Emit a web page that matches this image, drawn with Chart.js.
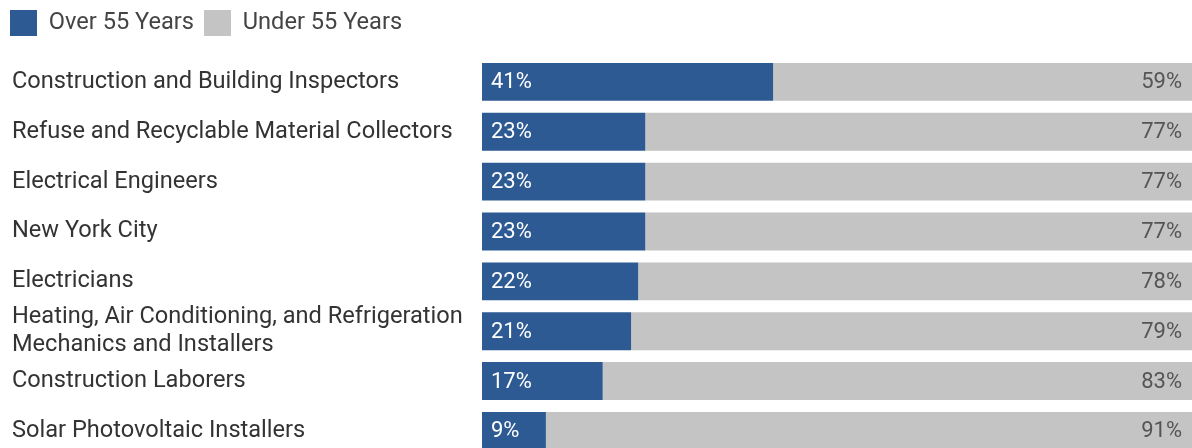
<!DOCTYPE html>
<html>
<head>
<meta charset="utf-8">
<script src="https://cdn.jsdelivr.net/npm/chart.js@4"></script>
<style>
  html, body { margin: 0; padding: 0; background: #fff; overflow: hidden; }
  #wrap { width: 1192px; height: 470px; }
</style>
</head>
<body>
<div id="wrap"><canvas id="c" width="1192" height="470"></canvas></div>
<script>
const categories = [
  "Construction and Building Inspectors",
  "Refuse and Recyclable Material Collectors",
  "Electrical Engineers",
  "New York City",
  "Electricians",
  ["Heating, Air Conditioning, and Refrigeration", "Mechanics and Installers"],
  "Construction Laborers",
  "Solar Photovoltaic Installers"
];
const over55 = [41, 23, 23, 23, 22, 21, 17, 9];
const under55 = [59, 77, 77, 77, 78, 79, 83, 91];
const seriesNames = ["Over 55 Years", "Under 55 Years"];

const FONT = "Roboto, 'Noto Sans', sans-serif";

const valueLabels = {
  id: 'valueLabels',
  afterInit(chart) {
    const lg = chart.legend;
    if (lg) {
      const orig = lg.fit.bind(lg);
      lg.fit = function () { orig(); this.height += 11; };
    }
  },
  afterLayout(chart) {
    chart.scales.y.left = 12;
  },
  afterDatasetsDraw(chart) {
    const ctx = chart.ctx;
    ctx.save();
    ctx.font = '22px ' + FONT;
    ctx.textBaseline = 'middle';
    chart.data.datasets.forEach((ds, i) => {
      const meta = chart.getDatasetMeta(i);
      meta.data.forEach((bar, j) => {
        const p = bar.getProps(['x', 'y', 'base'], true);
        const txt = ds.data[j] + '%';
        if (i === 0) {
          ctx.fillStyle = '#ffffff';
          ctx.textAlign = 'left';
          ctx.fillText(txt, p.base + 9, p.y + 1);
        } else {
          ctx.fillStyle = '#555555';
          ctx.textAlign = 'right';
          ctx.fillText(txt, Math.min(p.x, chart.chartArea.right) - 10, p.y + 1);
        }
      });
    });
    ctx.restore();
  }
};

new Chart(document.getElementById('c'), {
  type: 'bar',
  data: {
    labels: categories,
    datasets: [
      { label: seriesNames[0], data: over55, backgroundColor: '#2D5A92', borderWidth: 0 },
      { label: seriesNames[1], data: under55, backgroundColor: '#C4C4C4', borderWidth: 0 }
    ]
  },
  options: {
    indexAxis: 'y',
    responsive: false,
    devicePixelRatio: 1,
    animation: false,
    layout: { padding: { left: 0, top: 0, right: 0, bottom: 13 } },
    scales: {
      x: { stacked: true, min: 0, max: 100, display: false },
      y: {
        stacked: true,
        grid: { display: false },
        border: { display: false },
        afterFit(scale) { scale.width = 482; },
        ticks: {
          crossAlign: 'far',
          color: '#333333',
          padding: 0,
          autoSkip: false,
          font: { family: FONT, size: 23.6, lineHeight: 1.2 }
        }
      }
    },
    datasets: { bar: { categoryPercentage: 1, barPercentage: 0.76 } },
    plugins: {
      legend: {
        position: 'top',
        align: 'start',
        labels: {
          boxWidth: 27,
          boxHeight: 26,
          padding: 10,
          color: '#444444',
          font: { family: FONT, size: 23.6 }
        }
      },
      tooltip: { enabled: false }
    }
  },
  plugins: [valueLabels]
});
</script>
</body>
</html>
